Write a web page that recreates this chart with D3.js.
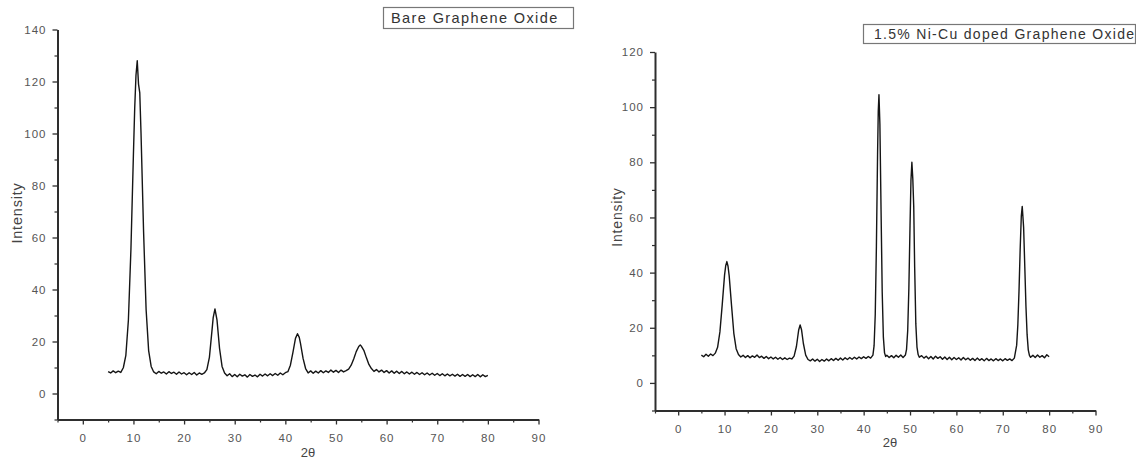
<!DOCTYPE html>
<html>
<head>
<meta charset="utf-8">
<script src="https://cdn.jsdelivr.net/npm/d3@7"></script>
<style>
  html, body { margin: 0; padding: 0; background: #fff; }
  svg { display: block; font-family: "Liberation Sans", Arial, sans-serif; }
</style>
</head>
<body>
<svg id="chart" width="1136" height="463"></svg>
<script>
// ---------- DATA ----------
const xTickValues = [0, 10, 20, 30, 40, 50, 60, 70, 80, 90];
const xMinorTicks = [-5, 5, 15, 25, 35, 45, 55, 65, 75, 85];
const yTicksBare = [0, 20, 40, 60, 80, 100, 120, 140];
const yMinorBare = [-10, 10, 30, 50, 70, 90, 110, 130];
const yTicksDoped = [0, 20, 40, 60, 80, 100, 120];
const yMinorDoped = [-10, 10, 30, 50, 70, 90, 110];

const legendBare = "Bare Graphene Oxide";
const legendDoped = "1.5% Ni-Cu doped Graphene Oxide";
const xTitle = "2θ";
const yTitle = "Intensity";

// Bare graphene oxide: [2θ, intensity]
const bareGO = [
  [5.0,8.4],[5.5,7.9],[6.0,8.7],[6.5,8.0],[7.0,8.6],[7.5,8.1],[8.0,9.9],[8.5,14.7],
  [9.0,28.2],[9.5,55.3],[10.0,92.4],[10.25,109.8],[10.5,122.4],[10.75,128.0],[11.0,119.0],
  [11.25,115.6],[11.5,99.8],[12.0,62.3],[12.5,32.3],[13.0,16.5],[13.5,10.4],[14.0,8.3],
  [14.5,7.6],[15.0,8.5],[15.5,7.8],[16.0,8.3],[16.5,7.5],[17.0,8.4],[17.5,7.7],[18.0,8.2],
  [18.5,7.4],[19.0,8.3],[19.5,7.5],[20.0,8.0],[20.5,7.2],[21.0,8.0],[21.5,7.3],[22.0,8.1],
  [22.5,7.1],[23.0,7.9],[23.5,7.4],[24.0,7.9],[24.5,9.2],[25.0,13.9],[25.5,24.0],[25.75,29.2],
  [26.1,32.5],[26.5,28.3],[27.0,17.4],[27.5,10.4],[28.0,7.9],[28.5,6.8],[29.0,7.6],[29.5,6.5],
  [30.0,7.3],[30.5,6.4],[31.0,7.4],[31.5,6.7],[32.0,7.2],[32.5,6.3],[33.0,7.3],[33.5,6.6],
  [34.0,7.1],[34.5,6.4],[35.0,7.4],[35.5,6.7],[36.0,7.5],[36.5,6.8],[37.0,7.6],[37.5,6.9],
  [38.0,7.7],[38.5,7.0],[39.0,7.9],[39.5,7.2],[40.0,8.0],[40.5,8.4],[41.0,10.9],[41.5,15.8],
  [42.0,21.2],[42.4,23.0],[42.75,21.6],[43.0,19.2],[43.5,13.5],[44.0,9.6],[44.5,7.9],
  [45.0,8.7],[45.5,7.8],[46.0,8.6],[46.5,7.9],[47.0,8.8],[47.5,8.0],[48.0,8.7],[48.5,8.1],
  [49.0,9.0],[49.5,8.2],[50.0,8.9],[50.5,8.1],[51.0,9.0],[51.5,8.3],[52.0,8.8],[52.5,9.4],
  [53.0,10.9],[53.5,13.3],[54.0,16.1],[54.5,18.1],[54.8,18.7],[55.0,18.2],[55.5,16.6],
  [56.0,13.8],[56.5,11.2],[57.0,9.6],[57.5,8.5],[58.0,9.2],[58.5,8.3],[59.0,9.0],[59.5,8.1],
  [60.0,8.8],[60.5,7.9],[61.0,8.7],[61.5,7.8],[62.0,8.6],[62.5,7.7],[63.0,8.5],[63.5,7.6],
  [64.0,8.3],[64.5,7.5],[65.0,8.2],[65.5,7.4],[66.0,8.1],[66.5,7.3],[67.0,8.0],[67.5,7.2],
  [68.0,7.9],[68.5,7.1],[69.0,7.8],[69.5,7.0],[70.0,7.7],[70.5,6.9],[71.0,7.6],[71.5,6.8],
  [72.0,7.5],[72.5,6.8],[73.0,7.4],[73.5,6.7],[74.0,7.4],[74.5,6.6],[75.0,7.3],[75.5,6.6],
  [76.0,7.3],[76.5,6.5],[77.0,7.2],[77.5,6.5],[78.0,7.3],[78.5,6.4],[79.0,7.2],[79.5,6.5],
  [80.0,7.0]
];

// 1.5% Ni-Cu doped graphene oxide: [2θ, intensity]
const dopedGO = [
  [5.0,10.1],[5.5,9.5],[6.0,10.4],[6.5,9.7],[7.0,10.5],[7.5,9.9],[8.0,10.8],[8.5,12.9],
  [9.0,18.5],[9.5,28.4],[10.0,39.1],[10.25,42.5],[10.5,44.0],[10.75,42.3],[11.0,38.8],
  [11.5,28.2],[12.0,18.0],[12.5,12.4],[13.0,10.3],[13.5,9.4],[14.0,10.0],[14.5,9.2],
  [15.0,9.9],[15.5,9.1],[16.0,9.8],[16.5,9.3],[17.0,10.1],[17.5,9.2],[18.0,9.7],[18.5,8.9],
  [19.0,9.6],[19.5,8.8],[20.0,9.4],[20.5,8.7],[21.0,9.3],[21.5,8.6],[22.0,9.2],[22.5,8.5],
  [23.0,9.1],[23.5,8.5],[24.0,9.0],[24.5,8.7],[25.0,9.7],[25.5,13.2],[25.75,16.3],[26.0,19.3],
  [26.3,21.0],[26.6,19.3],[27.0,14.3],[27.5,10.1],[28.0,8.5],[28.5,8.0],[29.0,8.7],[29.5,7.9],
  [30.0,8.6],[30.5,7.8],[31.0,8.5],[31.5,7.9],[32.0,8.7],[32.5,8.0],[33.0,8.8],[33.5,8.1],
  [34.0,8.9],[34.5,8.2],[35.0,9.0],[35.5,8.3],[36.0,9.1],[36.5,8.5],[37.0,9.2],[37.5,8.6],
  [38.0,9.3],[38.5,8.7],[39.0,9.4],[39.5,8.8],[40.0,9.5],[40.5,8.9],[41.0,9.6],[41.5,9.0],
  [42.0,10.1],[42.25,13.5],[42.5,24.8],[42.75,49.6],[43.0,82.9],[43.15,98.5],[43.3,104.5],
  [43.5,94.0],[43.75,62.8],[44.0,33.0],[44.25,16.6],[44.5,10.9],[44.75,9.6],[45.0,10.0],
  [45.5,9.2],[46.0,9.9],[46.5,9.1],[47.0,10.0],[47.5,9.3],[48.0,10.1],[48.5,9.2],[49.0,10.1],
  [49.25,12.2],[49.5,19.0],[49.75,34.3],[50.0,57.0],[50.2,73.4],[50.4,80.0],[50.6,74.0],
  [50.8,64.0],[51.0,42.0],[51.25,21.4],[51.5,13.0],[51.75,10.3],[52.0,9.3],[52.5,9.9],
  [53.0,9.0],[53.5,9.7],[54.0,8.8],[54.5,9.6],[55.0,8.7],[55.5,9.7],[56.0,8.9],[56.5,9.5],
  [57.0,8.6],[57.5,9.4],[58.0,8.5],[58.5,9.3],[59.0,8.4],[59.5,9.2],[60.0,8.5],[60.5,9.1],
  [61.0,8.3],[61.5,9.2],[62.0,8.4],[62.5,9.0],[63.0,8.2],[63.5,8.9],[64.0,8.1],[64.5,9.0],
  [65.0,8.2],[65.5,8.8],[66.0,8.0],[66.5,8.9],[67.0,8.1],[67.5,8.7],[68.0,8.0],[68.5,8.8],
  [69.0,8.1],[69.5,8.7],[70.0,8.0],[70.5,8.8],[71.0,8.2],[71.5,8.7],[72.0,8.1],[72.5,9.0],
  [73.0,13.7],[73.25,21.0],[73.5,33.2],[73.75,48.2],[74.0,60.5],[74.2,64.0],[74.5,56.3],
  [74.75,42.2],[75.0,27.8],[75.25,17.5],[75.5,12.0],[75.75,10.0],[76.0,9.3],[76.5,10.0],
  [77.0,9.2],[77.5,10.1],[78.0,9.3],[78.5,9.9],[79.0,9.1],[79.5,10.2],[80.0,9.5]
];

// ---------- DRAW ----------
const svg = d3.select("#chart");
const axisColor = "#2e2e2e";
const textColor = "#555";

function drawPanel(o) {
  const x = d3.scaleLinear().domain([-5, 90]).range(o.xRange);
  const y = d3.scaleLinear().domain(o.yDomain).range(o.yRange);
  const g = svg.append("g");

  // minor ticks
  g.append("g").attr("transform", `translate(0,${o.yRange[0]})`)
    .call(d3.axisBottom(x).tickValues(xMinorTicks).tickSize(3).tickFormat(""))
    .call(s => s.select(".domain").remove())
    .call(s => s.selectAll("line").attr("stroke", axisColor).attr("stroke-width", 1.2));
  g.append("g").attr("transform", `translate(${o.xRange[0]},0)`)
    .call(d3.axisLeft(y).tickValues(o.yMinor).tickSize(3).tickFormat(""))
    .call(s => s.select(".domain").remove())
    .call(s => s.selectAll("line").attr("stroke", axisColor).attr("stroke-width", 1.2));

  // major x axis
  const gx = g.append("g").attr("transform", `translate(0,${o.yRange[0]})`)
    .call(d3.axisBottom(x).tickValues(xTickValues).tickSize(5).tickSizeOuter(0).tickPadding(9));
  // major y axis
  const gy = g.append("g").attr("transform", `translate(${o.xRange[0]},0)`)
    .call(d3.axisLeft(y).tickValues(o.yTicks).tickSize(5).tickSizeOuter(0).tickPadding(o.yPad));

  [gx, gy].forEach(a => {
    a.select(".domain").attr("stroke", axisColor).attr("stroke-width", 2);
    a.selectAll(".tick line").attr("stroke", axisColor).attr("stroke-width", 1.3);
    a.selectAll(".tick text").attr("fill", textColor)
      .style("font-size", "11.5px").style("letter-spacing", "1px")
      .attr("font-family", "Liberation Sans, Arial, sans-serif");
  });

  // line
  const line = d3.line().x(d => x(d[0])).y(d => y(d[1]));
  g.append("path").datum(o.data)
    .attr("d", line).attr("fill", "none")
    .attr("stroke", "#151515").attr("stroke-width", 1.4)
    .attr("stroke-linejoin", "round");

  // axis titles
  g.append("text").attr("x", o.xTitlePos[0]).attr("y", o.xTitlePos[1])
    .attr("text-anchor", "middle").attr("fill", "#444")
    .style("font-size", "13px").text(xTitle);
  g.append("text")
    .attr("transform", `translate(${o.yTitlePos[0]},${o.yTitlePos[1]}) rotate(-90)`)
    .attr("text-anchor", "middle").attr("dy", "0.35em").attr("fill", "#444")
    .style("font-size", o.yTitleSize).style("letter-spacing", "0.8px").text(yTitle);

  // legend box
  const lb = o.legend;
  g.append("rect").attr("x", lb.x).attr("y", lb.y).attr("width", lb.w).attr("height", lb.h)
    .attr("fill", "#fff").attr("stroke", "#777").attr("stroke-width", 1.2);
  g.append("text").attr("x", lb.tx).attr("y", lb.ty).attr("fill", "#333")
    .style("font-size", lb.size).style("letter-spacing", lb.ls).text(lb.text);
}

drawPanel({
  data: bareGO,
  xRange: [57.5, 538.5],
  yDomain: [-10, 140], yRange: [419.5, 29.5],
  yTicks: yTicksBare, yMinor: yMinorBare, yPad: 6,
  xTitlePos: [308, 457],
  yTitlePos: [17, 213], yTitleSize: "14.5px",
  legend: { x: 383.5, y: 7.5, w: 190, h: 21, tx: 391, ty: 23, size: "14.5px", ls: "1.4px", text: legendBare }
});

drawPanel({
  data: dopedGO,
  xRange: [655, 1095.5],
  yDomain: [-10, 120], yRange: [410.5, 52],
  yTicks: yTicksDoped, yMinor: yMinorDoped, yPad: 6,
  xTitlePos: [890, 447],
  yTitlePos: [617, 217], yTitleSize: "14px",
  legend: { x: 863.5, y: 24.5, w: 272, h: 19, tx: 874, ty: 39, size: "14px", ls: "1.3px", text: legendDoped }
});
</script>
</body>
</html>
